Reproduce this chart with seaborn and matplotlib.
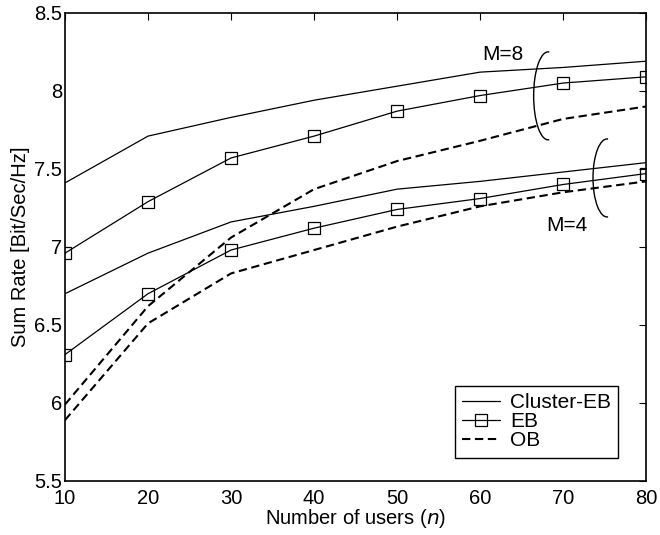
import numpy as np
import pandas as pd
import seaborn as sns
import matplotlib
matplotlib.use("Agg")
import matplotlib.pyplot as plt
from matplotlib.patches import Arc

# Sum rate vs number of users
users = [10, 20, 30, 40, 50, 60, 70, 80]
cluster_m8 = [7.41, 7.71, 7.83, 7.94, 8.03, 8.12, 8.15, 8.19]
eb_m8 = [6.96, 7.29, 7.57, 7.71, 7.87, 7.97, 8.05, 8.09]
ob_m8 = [5.99, 6.62, 7.06, 7.37, 7.55, 7.68, 7.82, 7.90]
cluster_m4 = [6.70, 6.96, 7.16, 7.26, 7.37, 7.42, 7.48, 7.54]
eb_m4 = [6.31, 6.70, 6.98, 7.12, 7.24, 7.31, 7.40, 7.47]
ob_m4 = [5.89, 6.51, 6.83, 6.98, 7.13, 7.26, 7.35, 7.42]

sns.set_style("white")
plt.rcParams["font.family"] = ["Liberation Sans", "DejaVu Sans"]
plt.rcParams["font.size"] = 14.5
plt.rcParams["text.color"] = "black"
plt.rcParams["axes.labelcolor"] = "black"
fs = 14.5

fig = plt.figure(figsize=(6.6, 5.35), dpi=100)
ax = fig.add_axes([0.0985, 0.101, 0.8805, 0.875])

# Cluster-EB: thin solid
for vals, lab in [(cluster_m8, "Cluster-EB"), (cluster_m4, "_nolegend_")]:
    sns.lineplot(x=users, y=vals, ax=ax, color="black", linewidth=0.9, label=lab)

# EB: solid with open squares
for vals, lab in [(eb_m8, "EB"), (eb_m4, "_nolegend_")]:
    sns.lineplot(x=users, y=vals, ax=ax, color="black", linewidth=0.9,
                 marker="s", markersize=8.5, markerfacecolor="none",
                 markeredgecolor="black", markeredgewidth=0.9, label=lab)

# OB: dashed
for vals, lab in [(ob_m8, "OB"), (ob_m4, "_nolegend_")]:
    sns.lineplot(x=users, y=vals, ax=ax, color="black", linewidth=1.5,
                 linestyle=(0, (4, 2.2)), label=lab)

ax.set_xlim(10, 80)
ax.set_ylim(5.5, 8.5)
ax.set_xticks(users)
ax.set_yticks([5.5, 6, 6.5, 7, 7.5, 8, 8.5])
ax.set_yticklabels(["5.5", "6", "6.5", "7", "7.5", "8", "8.5"])
ax.tick_params(direction="in", length=5, width=0.8, top=True, right=True,
               labelsize=fs, colors="black", pad=2)
ax.tick_params(axis="x", pad=6)
for s in ax.spines.values():
    s.set_color("black")
    s.set_linewidth(1.2)

ax.set_xlabel("Number of users ($\\mathit{n}$)", fontsize=fs, labelpad=-1)
ax.set_ylabel("Sum Rate [Bit/Sec/Hz]", fontsize=fs, labelpad=3)

# group annotations
ax.add_patch(Arc((68.2, 7.968), 3.5, 0.564, theta1=65, theta2=295,
                 color="black", linewidth=1.0))
ax.add_patch(Arc((75.3, 7.442), 3.4, 0.50, theta1=65, theta2=295,
                 color="black", linewidth=1.0))
ax.text(62.7, 8.23, "M=8", ha="center", va="center", fontsize=15, color="black")
ax.text(70.4, 7.14, "M=4", ha="center", va="center", fontsize=15, color="black")

leg = ax.legend(loc="lower right", bbox_to_anchor=(0.952, 0.05), fontsize=15,
                frameon=True, fancybox=False, framealpha=1, edgecolor="black",
                handlelength=1.8, labelspacing=0.0, borderpad=0.35,
                handletextpad=0.5, borderaxespad=0, labelcolor="black")
leg.get_frame().set_linewidth(1.0)

fig.savefig("out.png", dpi=100)
